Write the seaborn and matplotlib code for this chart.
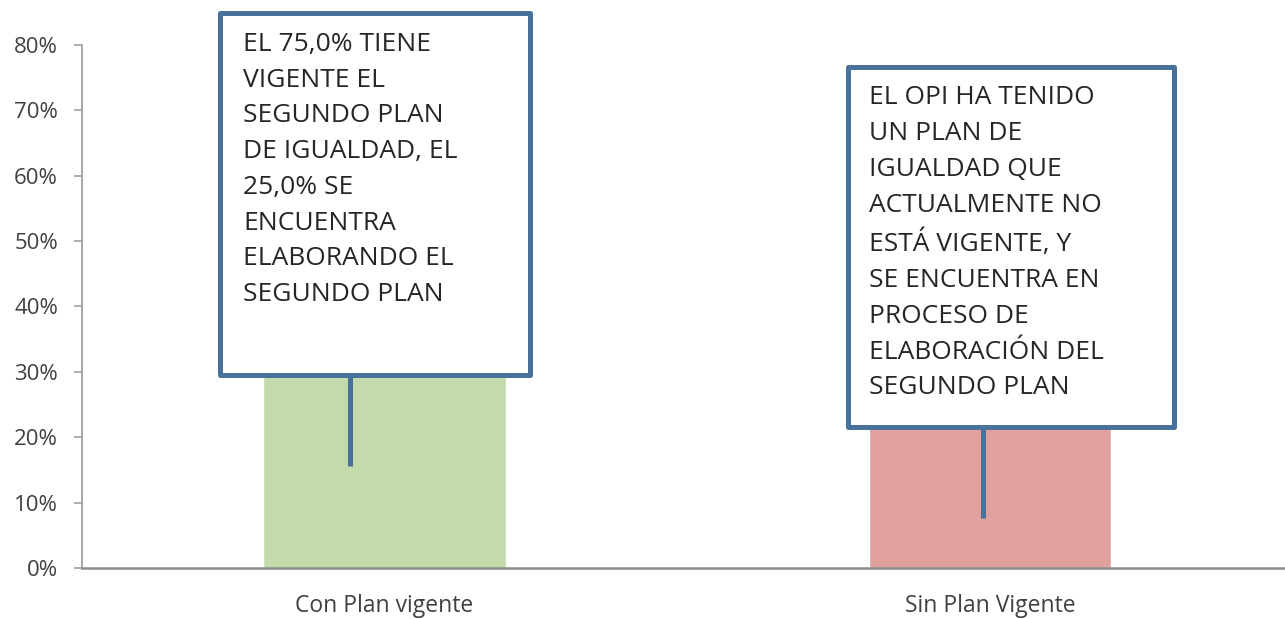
import matplotlib
matplotlib.use("Agg")
import matplotlib.pyplot as plt
import seaborn as sns
import pandas as pd
from matplotlib.patches import Rectangle

categories = ["Con Plan vigente", "Sin Plan Vigente"]
values = [66.7, 33.3]
bar_colors = ["#c3dbaa", "#e0a09e"]
yticks = [0, 10, 20, 30, 40, 50, 60, 70, 80]

note_con = ("EL 75,0% TIENE\nVIGENTE EL\nSEGUNDO PLAN\nDE IGUALDAD, EL\n"
            "25,0% SE\nENCUENTRA\nELABORANDO EL\nSEGUNDO PLAN")
note_sin = ("EL OPI HA TENIDO\nUN PLAN DE\nIGUALDAD QUE\nACTUALMENTE NO\n"
            "ESTÁ VIGENTE, Y\nSE ENCUENTRA EN\nPROCESO DE\nELABORACIÓN DEL\nSEGUNDO PLAN")

sns.set_style("white")
plt.rcParams["font.family"] = ["Open Sans", "DejaVu Sans"]

df = pd.DataFrame({"cat": categories, "val": values})

fig = plt.figure(figsize=(12.85, 6.19), dpi=100)
ax = fig.add_axes([0.0635, 0.0824, 0.9365, 0.845])
sns.barplot(data=df, x="cat", y="val", hue="cat", palette=bar_colors,
            width=0.4, saturation=1, legend=False, ax=ax, zorder=2)

ax.set_yticks(yticks)
ax.set_yticklabels([f"{t}%" for t in yticks], fontsize=16, color="#404040")
ax.set_xticks([-0.5, 0.5, 1.5], minor=True)
ax.set_ylim(0, 80)
ax.set_xlim(-0.5, 1.487)
ax.set_xlabel("")
ax.set_ylabel("")
ax.tick_params(axis="x", length=0, pad=19, labelsize=16.5, labelcolor="#404040")
ax.tick_params(axis="x", which="minor", length=7, width=1, color="#8c8c8c", direction="out")
ax.tick_params(axis="y", length=6, width=1.2, color="#a0a0a0", pad=11, direction="out", left=True)
for s in ["top", "right"]:
    ax.spines[s].set_visible(False)
ax.spines["left"].set_color("#a0a0a0")
ax.spines["left"].set_linewidth(1.3)
ax.spines["bottom"].set_color("#8c8c8c")
ax.spines["bottom"].set_linewidth(1.8)

edge = "#48729c"
# callout boxes with pointers
boxes = [
    (-0.271, 29.5, 0.511, 55.4, note_con, -0.057, 15.6, -0.233, 82.0),
    (0.765, 21.6, 0.539, 55.0, note_sin, 0.989, 7.6, 0.800, 73.8),
]
for x0, y0, w, h, txt, px, py, tx, ty in boxes:
    ax.add_patch(Rectangle((x0, y0), w, h, facecolor="white", edgecolor=edge,
                           linewidth=3.6, zorder=4, clip_on=False, joinstyle="round"))
    ax.plot([px, px], [py, y0], color=edge, linewidth=3.6, zorder=3,
            solid_capstyle="butt")
    ax.text(tx, ty, txt, ha="left", va="top", fontsize=19, color="#262626",
            linespacing=1.565, zorder=5, clip_on=False)

fig.savefig("out.png", dpi=100)
